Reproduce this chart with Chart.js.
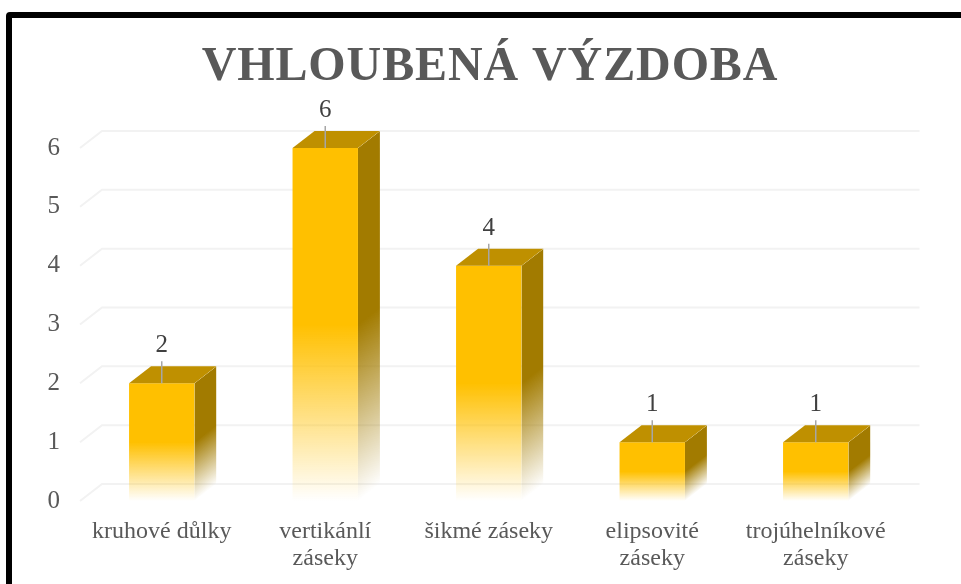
<!DOCTYPE html>
<html lang="cs">
<head>
<meta charset="utf-8">
<title>Vhloubená výzdoba</title>
<script src="https://cdn.jsdelivr.net/npm/chart.js@4"></script>
<style>
	html, body { margin: 0; padding: 0; background: #fff; overflow: hidden; }
	#wrap { position: relative; width: 961px; height: 584px; overflow: hidden; }
	#frame { position: absolute; left: 6px; top: 12px; width: 1000px; height: 1000px; border: 6px solid #000; border-radius: 4px; }
	canvas { position: absolute; left: 0; top: 0; }
</style>
</head>
<body>
<div id="wrap">
	<div id="frame"></div>
	<canvas id="chart" width="961" height="584"></canvas>
</div>
<script>
const chartTitle = 'VHLOUBENÁ VÝZDOBA';
const categories = [
	'kruhové důlky',
	['vertikánlí', 'záseky'],
	'šikmé záseky',
	['elipsovité', 'záseky'],
	['trojúhelníkové', 'záseky']
];
const values = [2, 6, 4, 1, 1];
const yTicks = [0, 1, 2, 3, 4, 5, 6];

const depthX = 22;
const depthY = 17;
const textColor = '#595959';
const serif = "'Liberation Serif', serif";

// solid for the upper half of the bar, then fading out to nothing at the base
function fade(ctx, top, bottom, rgb) {
	const g = ctx.createLinearGradient(0, top, 0, bottom);
	g.addColorStop(0, 'rgba(' + rgb + ',1)');
	g.addColorStop(0.5, 'rgba(' + rgb + ',1)');
	g.addColorStop(1, 'rgba(' + rgb + ',0)');
	return g;
}

// the built-in title centres on the padded box, the original sits further right
const titlePlugin = {
	id: 'spacedTitle',
	afterDraw(chart) {
		const { ctx } = chart;
		ctx.save();
		ctx.font = 'bold 48px ' + serif;
		ctx.letterSpacing = '0.9px';
		ctx.fillStyle = textColor;
		ctx.textAlign = 'center';
		ctx.textBaseline = 'alphabetic';
		ctx.fillText(chartTitle, 490, 80);
		ctx.restore();
	}
};

// back wall lines and the little floor/wall diagonals on the left
const gridPlugin = {
	id: 'grid3d',
	beforeDatasetsDraw(chart) {
		const { ctx, chartArea, scales } = chart;
		ctx.save();
		ctx.strokeStyle = '#f2f2f2';
		ctx.lineWidth = 2;
		yTicks.forEach(function(t) {
			const y = scales.y.getPixelForValue(t);
			ctx.beginPath();
			ctx.moveTo(chartArea.left, y);
			ctx.lineTo(chartArea.left + depthX, y - depthY);
			ctx.lineTo(chartArea.right + depthX, y - depthY);
			ctx.stroke();
		});
		ctx.restore();
	}
};

// side and top faces of each bar, plus the value labels with leader lines
const barPlugin = {
	id: 'bar3d',
	afterDatasetsDraw(chart) {
		const { ctx } = chart;
		chart.getDatasetMeta(0).data.forEach(function(bar, i) {
			const half = bar.width / 2;
			const left = bar.x - half;
			const right = bar.x + half;

			// side face: shear the canvas so the fade follows the slanted bottom edge
			ctx.save();
			ctx.beginPath();
			ctx.moveTo(right, bar.y);
			ctx.lineTo(right + depthX, bar.y - depthY);
			ctx.lineTo(right + depthX, bar.base - depthY);
			ctx.lineTo(right, bar.base);
			ctx.closePath();
			ctx.clip();
			ctx.transform(1, -depthY / depthX, 0, 1, 0, right * depthY / depthX);
			ctx.fillStyle = fade(ctx, bar.y, bar.base, '162,123,0');
			ctx.fillRect(right, bar.y, depthX, bar.base - bar.y);
			ctx.restore();

			ctx.save();
			ctx.fillStyle = '#bf9000';
			ctx.beginPath();
			ctx.moveTo(left, bar.y);
			ctx.lineTo(left + depthX, bar.y - depthY);
			ctx.lineTo(right + depthX, bar.y - depthY);
			ctx.lineTo(right, bar.y);
			ctx.closePath();
			ctx.fill();

			ctx.strokeStyle = '#a6a6a6';
			ctx.lineWidth = 1.5;
			ctx.beginPath();
			ctx.moveTo(bar.x, bar.y);
			ctx.lineTo(bar.x, bar.y - 22);
			ctx.stroke();

			ctx.fillStyle = '#404040';
			ctx.font = '25px ' + serif;
			ctx.textAlign = 'center';
			ctx.textBaseline = 'middle';
			ctx.fillText(values[i], bar.x, bar.y - 37.5);
			ctx.restore();
		});
	}
};

new Chart(document.getElementById('chart').getContext('2d'), {
	type: 'bar',
	data: {
		labels: categories,
		datasets: [{
			data: values,
			backgroundColor: function(context) {
				const y = context.chart.scales.y;
				const top = y.getPixelForValue(context.raw);
				const base = y.getPixelForValue(0);
				if (!isFinite(top) || !isFinite(base)) return '#ffc000';
				return fade(context.chart.ctx, top, base, '255,192,0');
			},
			borderWidth: 0,
			categoryPercentage: 0.8,
			barPercentage: 0.5
		}]
	},
	plugins: [gridPlugin, barPlugin, titlePlugin],
	options: {
		responsive: false,
		animation: false,
		layout: { padding: { top: 148, right: 63.5 } },
		plugins: {
			legend: { display: false },
			tooltip: { enabled: false },
			title: { display: false }
		},
		scales: {
			x: {
				grid: { display: false },
				border: { display: false },
				ticks: {
					color: textColor,
					font: { family: serif, size: 24, lineHeight: 1.12 },
					maxRotation: 0,
					minRotation: 0,
					autoSkip: false,
					padding: 9
				},
				afterFit(scale) { scale.height = 83; }
			},
			y: {
				min: 0,
				max: 6,
				grid: { display: false, drawTicks: false },
				border: { display: false },
				afterBuildTicks(scale) { scale.ticks = yTicks.map(function(v) { return { value: v }; }); },
				ticks: {
					color: textColor,
					font: { family: serif, size: 25 },
					padding: 20
				},
				afterFit(scale) { scale.width = 80; }
			}
		}
	}
});
</script>
</body>
</html>
